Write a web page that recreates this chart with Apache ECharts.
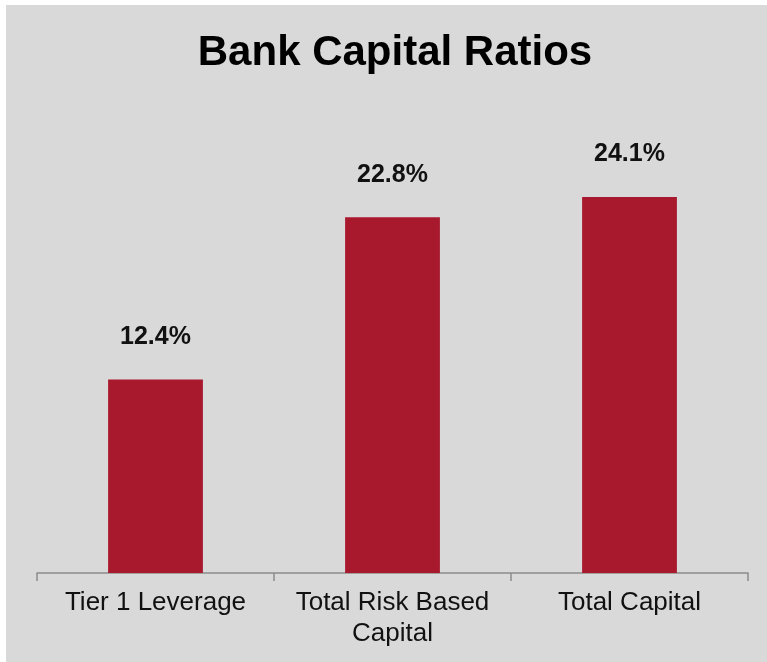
<!DOCTYPE html>
<html>
<head>
<meta charset="utf-8">
<script src="https://cdn.jsdelivr.net/npm/echarts@6/dist/echarts.min.js"></script>
<style>
html,body{margin:0;padding:0;background:#ffffff;width:767px;height:662px;overflow:hidden;}
#chart{position:absolute;left:6px;top:5px;width:761px;height:657px;background:#d9d9d9;}
</style>
</head>
<body>
<div id="chart"></div>
<script>
const titleText = 'Bank Capital Ratios';
const categories = ['Tier 1 Leverage', 'Total Risk Based\nCapital', 'Total Capital'];
const values = [12.4, 22.8, 24.1];

const chart = echarts.init(document.getElementById('chart'), null, {renderer: 'canvas'});
chart.setOption({
  backgroundColor: '#d9d9d9',
  animation: false,
  title: {
    text: titleText,
    left: 384,
    textAlign: 'center',
    top: 22,
    textStyle: {fontFamily: 'Liberation Sans, Arial, sans-serif', fontWeight: 'bold', fontSize: 42, color: '#000'}
  },
  grid: {left: 31, right: 19, top: 100, bottom: 89},
  xAxis: {
    type: 'category',
    data: categories,
    axisLine: {lineStyle: {color: '#8c8c8c', width: 1.5}},
    axisTick: {show: true, length: 8, lineStyle: {color: '#8c8c8c', width: 1.5}},
    axisLabel: {
      fontFamily: 'Liberation Sans, Arial, sans-serif',
      fontSize: 26, color: '#111', margin: 14, lineHeight: 31, interval: 0
    }
  },
  yAxis: {type: 'value', min: 0, max: 30, show: false, splitLine: {show: false}},
  series: [{
    type: 'bar',
    data: values,
    barWidth: '40%',
    itemStyle: {color: '#a8192e'},
    label: {
      show: true, position: 'top', distance: 30,
      formatter: p => p.value.toFixed(1) + '%',
      fontFamily: 'Liberation Sans, Arial, sans-serif',
      fontWeight: 'bold', fontSize: 25, color: '#111'
    }
  }]
});
</script>
</body>
</html>
